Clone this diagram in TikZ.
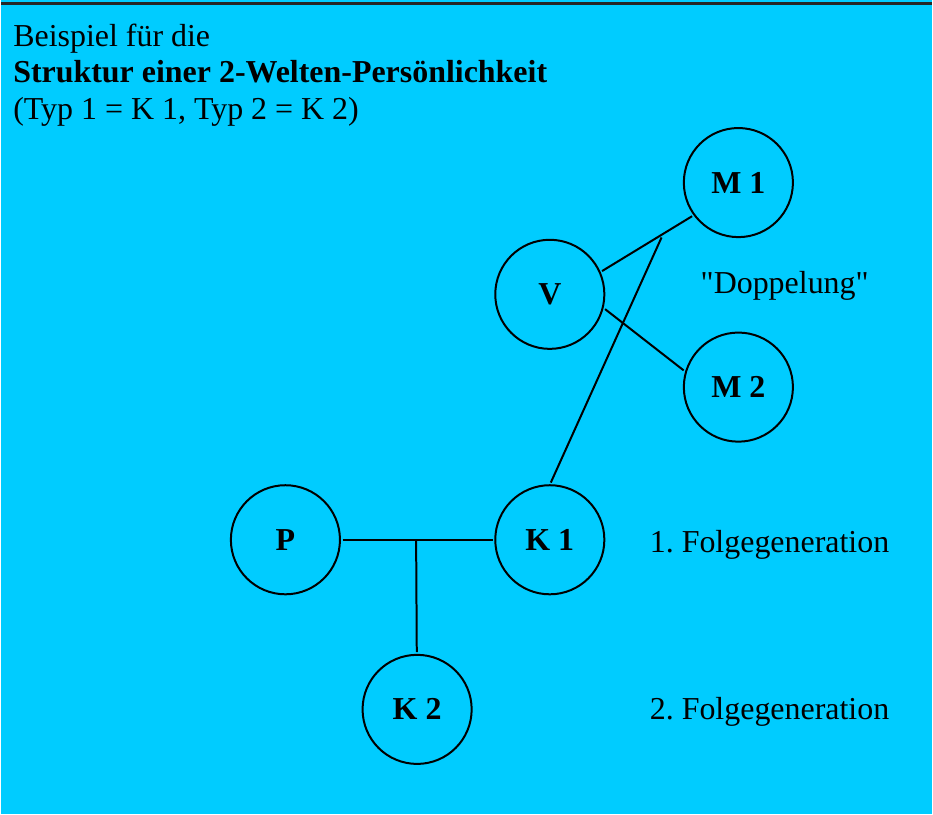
\documentclass[tikz,border=0pt]{standalone}
\usepackage{fontspec}
\setmainfont{Liberation Serif}[Ligatures=TeXOff]
\usetikzlibrary{positioning}
\definecolor{skycyan}{HTML}{00CCFF}
\newcommand{\bigtext}{\fontsize{24}{28}\selectfont}
\frenchspacing
\tikzset{
  person/.style = {draw, circle, line width=1.5pt, minimum size=82pt,
                   inner sep=0pt, outer sep=2pt, font=\bigtext\bfseries},
  rel/.style    = {line width=1.5pt},
  note/.style   = {anchor=base west, inner sep=0pt},
}

\begin{document}
\begin{tikzpicture}[x=0.75pt,y=-0.75pt,font=\bigtext]
\fill[skycyan] (0,0) rectangle (933,816);
\draw[line width=1.6pt, black!85] (0,3.5) -- (933,3.5);
\useasboundingbox (0,0) rectangle (933,816);
% heading
\node[note] (t1) at (12,47) {Beispiel für die};
\node[note] (t2) at (12,83) {\bfseries Struktur einer 2-Welten-Persönlichkeit};
\node[note] (t3) at (12,120) {(Typ 1 = K 1, Typ 2 = K 2)};
% persons
\node[person] (M1) at (739,183) {M 1};
\node[person] (V)  at (550,295) {V};
\node[person] (M2) at (739,388) {M 2};
\node[person] (P)  at (285,541) {P};
\node[person] (K1) at (550,541) {K 1};
\node[person] (K2) at (417,711) {K 2};
\coordinate (jn) at (416,541);
\coordinate (k1end) at (662,238);
% relations
\draw[rel] (V.24) -- (M1.216);
\draw[rel] (V.-15) -- (M2.163);
\draw[rel] (K1.89) -- (k1end);
\draw[rel] (P) -- (K1);
\draw[rel] (jn) -- (K2);
% notes
\node[note] (dop) at (701,294) {"Doppelung"};
\node[note] (g1)  at (650,554) {1. Folgegeneration};
\node[note] (g2)  at (650,721) {2. Folgegeneration};
\end{tikzpicture}
\end{document}
